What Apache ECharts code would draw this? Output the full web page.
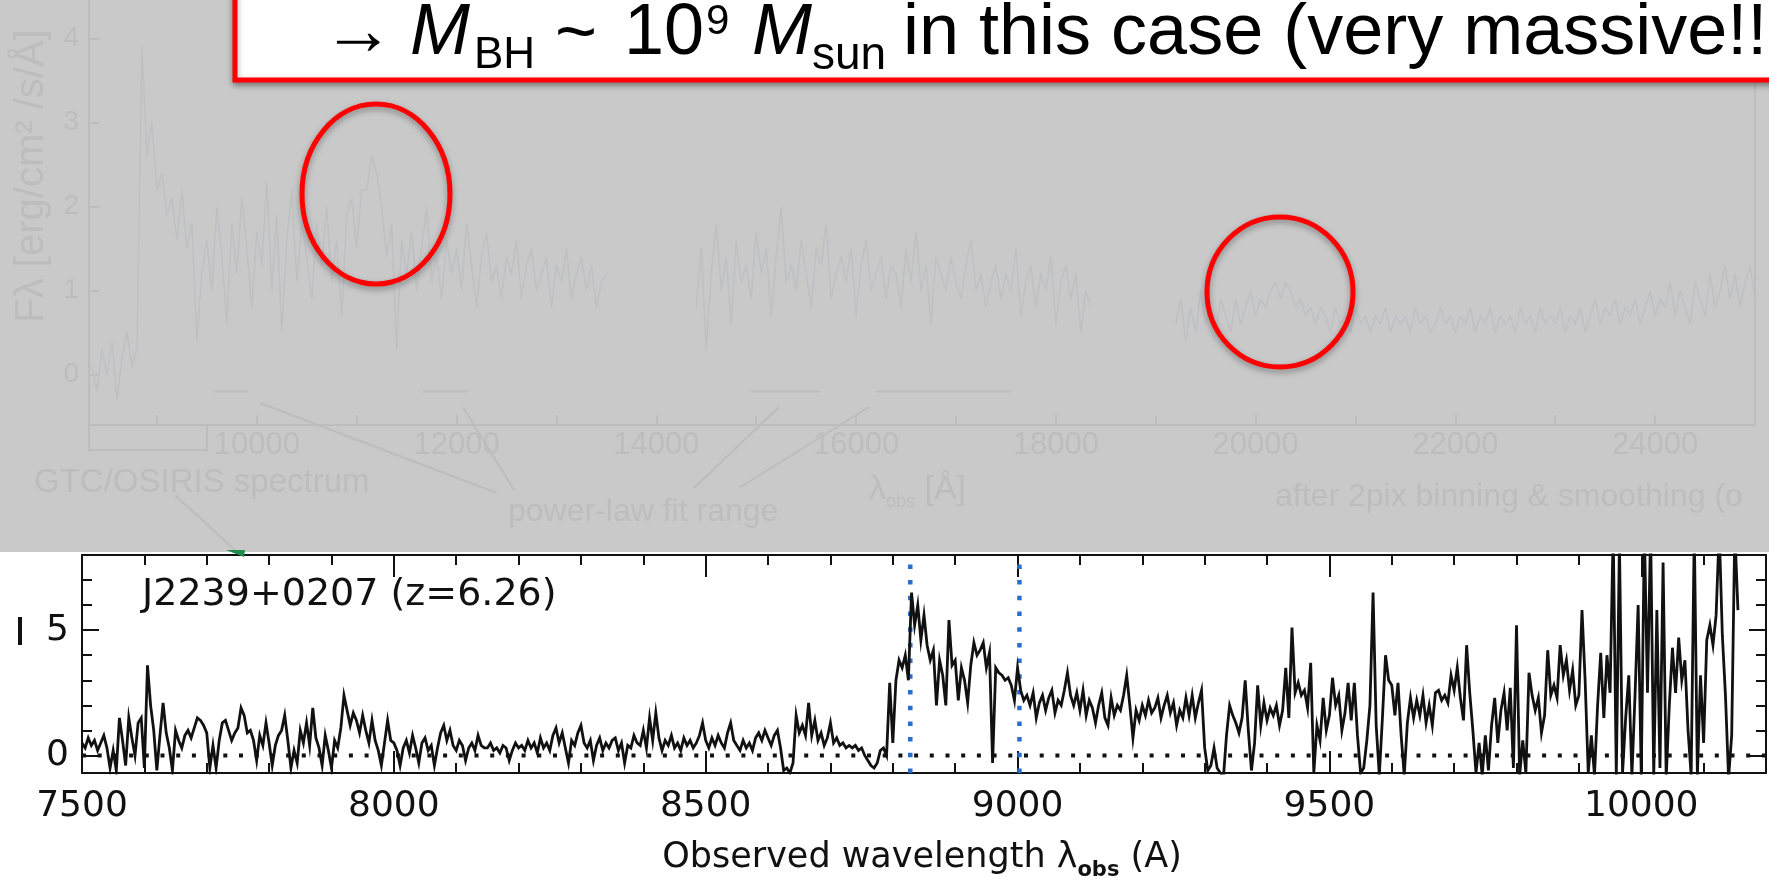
<!DOCTYPE html>
<html>
<head>
<meta charset="utf-8">
<script src="https://cdn.jsdelivr.net/npm/echarts@6/dist/echarts.min.js"></script>
<style>
  html, body { margin: 0; padding: 0; background: #ffffff; }
  #c { width: 1769px; height: 885px; }
</style>
</head>
<body>
<div id="c"></div>
<script>
// ---------- J2239+0207 optical spectrum (lower panel) ----------
const lamStart = 7500;          // first sample wavelength (A)
const lamStep = 5;              // sampling step (A)
const flux = [
  // 7500-7595
  0.5, 0.3, 0.7, 0.4, 0.6, 0.2, 0.5, 0.8, 0.3, -0.5, 0.2, -0.6, 1.5, 0.6, -0.4, 1.5, 0.7, 0.0, 1.3, 1.5,
  // 7600-7695
  -0.5, 3.6, 2.0, 1.0, -0.6, 0.8, 2.1, 0.9, 0.3, -0.6, 1.0, 0.6, 0.3, 0.8, 1.0, 0.7, 1.1, 1.5, 1.4, 1.2,
  // 7700-7795
  0.9, -0.5, 0.4, -0.5, 0.6, 1.3, 1.4, 1.0, 0.6, 0.9, 1.1, 1.9, 1.6, 0.9, 1.0, 0.6, -0.2, 0.8, 0.4, 1.3,
  // 7800-7895
  0.5, -0.4, 0.4, 0.8, 1.0, 1.6, 0.6, -0.5, 0.2, -0.3, 1.0, 0.5, 1.3, 0.4, 1.9, 0.7, 0.3, -0.4, 0.8, 0.2,
  // 7900-7995
  -0.5, 0.6, 0.3, 1.1, 2.4, 1.8, 1.2, 1.7, 1.4, 0.9, 1.6, 1.0, 0.5, 1.4, 0.6, 0.2, -0.4, 0.5, 1.4, 0.6,
  // 8000-8095
  0.5, 0.2, -0.4, 0.3, 0.6, 0.1, 0.8, 0.3, -0.3, 0.5, 0.7, 0.2, 0.4, -0.4, 0.3, 0.9, 1.2, 0.6, 1.0, 0.4,
  // 8100-8195
  0.2, 0.6, 0.4, -0.2, 0.3, 0.5, 0.2, 0.8, 0.4, 0.3, 0.3, 0.5, 0.2, 0.3, 0.1, 0.4, 0.3, -0.2, 0.2, 0.5,
  // 8200-8295
  0.3, 0.4, 0.2, 0.6, 0.3, 0.5, 0.1, 0.7, 0.3, 0.5, 0.2, 0.8, 1.1, 0.5, 0.9, 0.3, -0.3, 0.6, 0.4, 0.9,
  // 8300-8395
  1.2, 0.5, 0.3, 0.6, -0.2, 0.4, 0.7, 0.2, 0.5, 0.3, 0.6, 0.7, 0.2, 0.5, -0.3, 0.4, 0.3, 0.8, 0.5, 0.4,
  // 8400-8495
  1.0, 0.3, 1.5, 0.6, 1.7, 0.7, 0.2, 0.6, 0.4, 0.8, 0.3, 0.5, 0.2, 0.7, 0.4, 0.6, 0.3, 0.5, 0.8, 1.3,
  // 8500-8595
  0.6, 0.3, 0.7, 0.4, 0.8, 0.5, 0.3, 0.9, 1.3, 0.6, 0.4, 0.2, 0.6, 0.3, 0.5, 0.2, 0.7, 0.9, 0.6, 1.0,
  // 8600-8695
  0.7, 0.4, 0.8, 1.0, 0.3, -0.6, -0.5, -0.7, -0.3, 1.6, 0.9, 1.2, 0.8, 2.1, 0.8, 1.4, 0.6, 0.9, 0.4, 0.7,
  // 8700-8795
  1.3, 0.5, 0.7, 0.4, 0.5, 0.3, 0.4, 0.3, 0.4, 0.2, 0.3, 0.0, -0.2, -0.4, -0.5, -0.3, 0.2, 0.3, 0.0, 2.9,
  // 8800-8895
  0.5, 3.0, 3.8, 3.5, 4.0, 3.0, 6.5, 5.2, 6.0, 4.6, 5.6, 4.4, 3.8, 4.2, 2.0, 3.8, 3.2, 2.0, 5.4, 3.6,
  // 8900-8995
  3.8, 2.2, 3.5, 3.0, 2.1, 3.6, 4.5, 4.0, 4.2, 4.5, 3.5, 4.1, -0.3, 3.5, 3.3, 3.2, 3.0, 3.1, 2.8, 2.2,
  // 9000-9095
  3.5, 2.6, 2.2, 2.4, 2.0, 2.5, 1.5, 2.1, 2.4, 1.8, 2.3, 2.6, 1.7, 2.2, 2.0, 2.6, 3.3, 2.4, 2.0, 2.5,
  // 9100-9195
  1.8, 2.6, 1.6, 2.2, 1.9, 1.3, 2.0, 2.5, 1.5, 1.2, 2.3, 1.6, 2.0, 1.8, 2.4, 3.2, 2.0, 0.7, 1.8, 1.4,
  // 9200-9295
  2.0, 1.6, 2.2, 1.7, 1.9, 2.3, 1.5, 2.0, 2.4, 1.7, 2.1, 1.2, 1.8, 1.5, 2.3, 1.6, 2.4, 1.5, 2.1, 2.6,
  // 9300-9395
  0.3, -0.6, -0.4, 0.3, -0.5, -0.7, -0.9, 0.8, 2.0, 1.6, 1.3, 0.9, 1.5, 3.0, 1.0, -0.6, 0.5, 2.8, 1.2, 2.1,
  // 9400-9495
  1.4, 1.9, 1.6, 2.0, 1.2, 1.8, 3.5, 1.5, 5.1, 2.5, 2.9, 2.4, 2.6, 1.9, 3.7, -0.7, 1.2, 0.6, 2.3, 1.0,
  // 9500-9595
  1.6, 3.1, 2.0, 2.4, 1.0, 1.7, 2.9, 1.4, 2.9, 0.8, -0.7, -0.5, 0.6, 2.0, 6.5, 1.2, -0.8, 1.5, 4.0, 3.0,
  // 9600-9695
  2.8, 1.6, 2.9, 0.8, -0.8, 1.3, 2.3, 1.5, 2.2, 1.6, 2.4, 1.3, 2.0, 1.2, 2.5, 2.6, 2.2, 2.4, 2.1, 3.2,
  // 9700-9795
  2.6, 3.5, 2.3, 1.4, 4.4, 2.5, 1.0, -0.7, 0.5, -0.8, 0.8, -0.6, 1.2, 2.3, 0.5, 1.8, 2.5, 1.0, 2.7, -0.5,
  // 9800-9895
  5.2, -0.8, 0.6, -0.7, 3.3, 2.4, 1.8, 2.3, 0.9, 1.6, 4.2, 2.4, 2.8, 2.3, 4.4, 3.2, 3.8, 2.6, 3.4, 2.0,
  // 9900-9995
  2.4, 5.8, 3.0, -0.7, 0.8, -0.8, 2.0, 4.1, 1.5, 4.0, 2.5, 9.0, -0.8, 8.5, -0.7, 1.5, 3.2, -0.8, 2.4, 6.0,
  // 10000-10095
  -0.8, 9.0, 2.5, 9.0, -0.8, 5.8, -0.5, 7.7, -0.9, 2.0, 4.3, 2.5, 4.7, 3.0, 3.8, 1.0, -0.8, 9.0, -0.8, 3.2,
  // 10100-10155
  0.5, 4.6, 5.2, 4.4, 5.6, 9.0, 4.8, 2.4, -0.9, 0.8, 9.0, 5.8
];
const xTickLabels = [7500, 8000, 8500, 9000, 9500, 10000];
const yTickLabels = [0, 5];
const yMinorTicks = [1, 2, 3, 4, 6, 7];
const lineWavelengths = [8828, 9003];          // blue dotted markers
const objectName = 'J2239+0207 (z=6.26)';

// ---------- wide-band spectrum (upper, faded panel) ----------
const bandStep = 50;
const bandJStart = 8350;
const bandJ = [
  0.1, -0.2, 0.3, 0.0, 0.4, -0.3, 0.2, 0.5, 0.1, 0.3,
  3.9, 2.6, 3.0, 2.2, 2.4, 1.9, 2.1, 1.6, 2.2, 1.5, 1.8, 0.4, 1.2,
  1.6, 1.0, 2.0, 1.4, 0.6, 1.8, 1.2, 2.1, 1.5, 0.8,
  1.7, 1.3, 2.3, 1.0, 1.9, 0.5, 1.6, 2.2, 1.1, 1.8,
  1.4, 0.9, 1.8, 1.3, 2.0, 1.1, 1.6, 0.7, 1.9, 2.1,
  1.5, 2.2, 2.2, 2.6, 2.4, 2.0, 1.4, 1.8, 0.3, 1.6,
  1.2, 1.7, 1.0, 1.5, 2.0, 1.1, 1.4, 0.9, 1.6, 1.2,
  1.5, 1.0, 1.8, 1.3, 0.8, 1.4, 1.7, 1.1, 1.3, 0.9,
  1.4, 1.2, 1.6, 0.9, 1.3, 1.5, 1.0, 1.2, 1.4, 0.8,
  1.3, 1.1, 1.5, 0.9, 1.2, 1.4, 1.0, 1.3, 0.8, 1.1, 1.2
];
const bandHStart = 14400;
const bandH = [
  0.8, 1.5, 0.3, 1.2, 1.8, 1.0, 1.4, 0.6, 1.6, 1.1,
  1.3, 0.9, 1.7, 1.2, 1.5, 0.7, 1.4, 2.0, 1.1, 1.3,
  1.0, 1.6, 1.2, 0.8, 1.5, 1.3, 1.8, 0.9, 1.2, 1.4,
  1.1, 1.5, 0.7, 1.3, 1.6, 1.0, 1.2, 1.4, 0.9, 1.3,
  1.2, 0.8, 1.5, 1.1, 1.7, 1.0, 1.3, 0.6, 1.4, 1.2,
  1.0, 1.4, 1.1, 0.9, 1.3, 1.6, 1.0, 1.2, 0.8, 1.1,
  1.3, 0.9, 1.2, 1.0, 1.5, 0.7, 1.1, 1.3, 0.8, 1.2,
  1.0, 1.4, 0.6, 1.1, 1.3, 0.9, 1.2, 0.5, 1.0, 0.8
];
const bandKStart = 19200;
const bandK = [
  0.6, 0.9, 0.4, 0.8, 0.5, 1.0, 0.6, 0.8, 0.5, 0.9,
  0.7, 0.5, 0.9, 0.6, 0.8, 1.0, 0.7, 0.9, 0.8, 1.0,
  1.1, 0.9, 1.1, 1.0, 0.8, 0.9, 0.7, 0.8, 0.6, 0.8,
  0.7, 0.5, 0.8, 0.6, 0.7, 0.5, 0.8, 0.6, 0.7, 0.5,
  0.7, 0.6, 0.8, 0.5, 0.7, 0.6, 0.7, 0.5, 0.8, 0.6,
  0.7, 0.5, 0.6, 0.8, 0.6, 0.7, 0.5, 0.7, 0.6, 0.8,
  0.5, 0.7, 0.6, 0.8, 0.5, 0.7, 0.6, 0.7, 0.5, 0.8,
  0.6, 0.7, 0.5, 0.8, 0.6, 0.7, 0.6, 0.8, 0.5, 0.7,
  0.6, 0.8, 0.5, 0.7, 0.9, 0.6, 0.8, 0.7, 0.9, 0.6,
  0.8, 0.7, 0.9, 0.6, 0.8, 1.0, 0.7, 0.9, 0.8, 1.1,
  0.7, 1.0, 0.8, 0.6, 1.1, 0.9, 0.7, 1.2, 0.8, 1.0,
  1.3, 0.9, 1.2, 0.8, 1.1, 1.3, 0.9
];
const fitRanges = [[9570, 9910], [11660, 12110], [14950, 15640], [16200, 17550]];
const fitLevel = -0.2;
const bandXTicks = [10000, 12000, 14000, 16000, 18000, 20000, 22000, 24000];
const bandYTicks = [0, 1, 2, 3, 4];

// ---------- helpers ----------
function pairs(start, step, values) {
  return values.map((v, i) => [start + i * step, v]);
}
const plain = v => String(v);
const xMinorTicks = [];
for (let v = 7600; v < 10200; v += 100) if (v % 500 !== 0) xMinorTicks.push(v);
const bandXMinor = [];
for (let v = 9000; v <= 25000; v += 1000) bandXMinor.push(v);

const ink = '#111111';
const haze = '#c9c9c9';
const faint = '#bdbdbd';
const faintSpec = '#bec0c4';
const plotFont = 'DejaVu Sans';
const slideFont = 'Liberation Sans, Arial, Helvetica, sans-serif';

function frameAxis(pos, grid, extra) {
  return Object.assign({
    gridIndex: grid, type: 'value', position: pos,
    splitLine: { show: false },
    axisLine: { show: true, onZero: false, lineStyle: { color: ink, width: 2 } },
    axisLabel: { show: false },
    axisTick: { show: false }
  }, extra);
}

const chart = echarts.init(document.getElementById('c'), null, { renderer: 'canvas' });

const bandSeries = [
  { start: bandJStart, vals: bandJ },
  { start: bandHStart, vals: bandH },
  { start: bandKStart, vals: bandK }
].map(seg => ({
  type: 'line', xAxisIndex: 0, yAxisIndex: 0, symbol: 'none', silent: true,
  data: pairs(seg.start, bandStep, seg.vals),
  lineStyle: { color: faintSpec, width: 1.5 }, z: 1
}));

const fitSeries = fitRanges.map(r => ({
  type: 'line', xAxisIndex: 0, yAxisIndex: 0, symbol: 'none', silent: true,
  data: [[r[0], fitLevel], [r[1], fitLevel]],
  lineStyle: { color: faint, width: 2 }, z: 1
}));

const markerSeries = lineWavelengths.map(w => ({
  type: 'line', xAxisIndex: 1, yAxisIndex: 1, symbol: 'none', silent: true,
  data: [[w, -0.7], [w, 8]],
  lineStyle: { color: '#2a6ec8', width: 4.5, type: [4.5, 11.2] }, z: 3
}));

const option = {
  animation: false,
  backgroundColor: '#ffffff',
  grid: [
    { left: 89, top: 0, right: 14, height: 425 },
    { left: 82, top: 555, right: 3, height: 218 }
  ],
  xAxis: [
    {
      gridIndex: 0, type: 'value', min: 8320, max: 25000, position: 'bottom',
      splitLine: { show: false },
      axisLine: { onZero: false, lineStyle: { color: faint, width: 2 } },
      axisTick: { inside: true, length: 10, customValues: bandXMinor, lineStyle: { color: faint, width: 2 } },
      axisLabel: { customValues: bandXTicks, formatter: plain, color: faint, fontFamily: slideFont, fontSize: 31, margin: 5 }
    },
    frameAxis('bottom', 1, {
      min: 7500, max: 10200,
      axisTick: { show: true, inside: true, length: 22, customValues: xTickLabels, lineStyle: { color: ink, width: 2 } },
      axisLabel: { show: true, customValues: xTickLabels, formatter: plain, color: ink, fontFamily: plotFont, fontSize: 36, margin: 16 }
    }),
    frameAxis('bottom', 1, {
      min: 7500, max: 10200, axisLine: { show: false, onZero: false },
      axisTick: { show: true, inside: true, length: 10, customValues: xMinorTicks, lineStyle: { color: ink, width: 2 } }
    }),
    frameAxis('top', 1, {
      min: 7500, max: 10200,
      axisTick: { show: true, inside: true, length: 22, customValues: xTickLabels, lineStyle: { color: ink, width: 2 } }
    }),
    frameAxis('top', 1, {
      min: 7500, max: 10200, axisLine: { show: false, onZero: false },
      axisTick: { show: true, inside: true, length: 10, customValues: xMinorTicks, lineStyle: { color: ink, width: 2 } }
    })
  ],
  yAxis: [
    {
      gridIndex: 0, type: 'value', min: -0.6, max: 4.46, position: 'left',
      splitLine: { show: false },
      axisLine: { onZero: false, lineStyle: { color: faint, width: 2 } },
      axisTick: { inside: true, length: 10, customValues: bandYTicks, lineStyle: { color: faint, width: 2 } },
      axisLabel: { customValues: bandYTicks, formatter: plain, color: faint, fontFamily: slideFont, fontSize: 28, margin: 10 }
    },
    frameAxis('left', 1, {
      min: -0.7, max: 8,
      axisTick: { show: true, inside: true, length: 17, customValues: yTickLabels, lineStyle: { color: ink, width: 2 } },
      axisLabel: { show: true, customValues: yTickLabels, formatter: plain, color: ink, fontFamily: plotFont, fontSize: 36, margin: 13 }
    }),
    frameAxis('left', 1, {
      min: -0.7, max: 8, axisLine: { show: false, onZero: false },
      axisTick: { show: true, inside: true, length: 10, customValues: yMinorTicks, lineStyle: { color: ink, width: 2 } }
    }),
    frameAxis('right', 1, {
      min: -0.7, max: 8,
      axisTick: { show: true, inside: true, length: 17, customValues: yTickLabels, lineStyle: { color: ink, width: 2 } }
    }),
    frameAxis('right', 1, {
      min: -0.7, max: 8, axisLine: { show: false, onZero: false },
      axisTick: { show: true, inside: true, length: 10, customValues: yMinorTicks, lineStyle: { color: ink, width: 2 } }
    }),
    {
      gridIndex: 0, type: 'value', min: -0.6, max: 4.46, position: 'right',
      splitLine: { show: false }, axisTick: { show: false }, axisLabel: { show: false },
      axisLine: { show: true, onZero: false, lineStyle: { color: faint, width: 2 } }
    }
  ],
  series: [
    ...bandSeries,
    ...fitSeries,
    {
      type: 'line', xAxisIndex: 1, yAxisIndex: 1, symbol: 'none', silent: true,
      data: [[7500, 0], [10200, 0]],
      lineStyle: { color: ink, width: 4, type: [4, 11.7] }, z: 2
    },
    ...markerSeries,
    {
      type: 'line', xAxisIndex: 1, yAxisIndex: 1, symbol: 'none', silent: true,
      data: pairs(lamStart, lamStep, flux), clip: true,
      lineStyle: { color: ink, width: 2.8, join: 'miter' }, z: 4
    }
  ],
  graphic: { elements: [
    // haze behind the wide-band panel
    { type: 'rect', z: -10, silent: true, shape: { x: 0, y: 0, width: 1769, height: 552 }, style: { fill: haze } },
    { type: 'rect', z: -5, silent: true, shape: { x: 89, y: 425, width: 118, height: 25 }, style: { fill: 'none', stroke: faint, lineWidth: 2 } },
    { type: 'text', z: 5, x: 32, y: 176, rotation: Math.PI / 2, silent: true,
      style: { text: 'Fλ [erg/cm² /s/Å]', fill: faint, font: '40px ' + slideFont, align: 'center', verticalAlign: 'middle' } },
    { type: 'text', z: 5, x: 34, y: 483, silent: true,
      style: { text: 'GTC/OSIRIS spectrum', fill: faint, font: '33px ' + slideFont, align: 'left', verticalAlign: 'middle' } },
    { type: 'text', z: 5, x: 508, y: 512, silent: true,
      style: { text: 'power-law fit range', fill: faint, font: '32px ' + slideFont, align: 'left', verticalAlign: 'middle' } },
    { type: 'text', z: 5, x: 869, y: 490, silent: true,
      style: { text: '{a|λ}{s|obs}{a| [Å]}', fill: faint, verticalAlign: 'middle', align: 'left',
        rich: { a: { fill: faint, fontSize: 34, fontFamily: slideFont, lineHeight: 42 },
                s: { fill: faint, fontSize: 18, fontFamily: slideFont, lineHeight: 18, verticalAlign: 'bottom' } } } },
    { type: 'text', z: 5, x: 1275, y: 497, silent: true,
      style: { text: 'after 2pix binning & smoothing (o', fill: faint, font: '32px ' + slideFont, align: 'left', verticalAlign: 'middle' } },
    { type: 'line', z: 5, silent: true, shape: { x1: 175, y1: 495, x2: 237, y2: 552 }, style: { stroke: faint, lineWidth: 2 } },
    { type: 'line', z: 5, silent: true, shape: { x1: 497, y1: 493, x2: 260, y2: 403 }, style: { stroke: faint, lineWidth: 2 } },
    { type: 'line', z: 5, silent: true, shape: { x1: 514, y1: 490, x2: 463, y2: 407 }, style: { stroke: faint, lineWidth: 2 } },
    { type: 'line', z: 5, silent: true, shape: { x1: 694, y1: 488, x2: 779, y2: 407 }, style: { stroke: faint, lineWidth: 2 } },
    { type: 'line', z: 5, silent: true, shape: { x1: 739, y1: 488, x2: 869, y2: 407 }, style: { stroke: faint, lineWidth: 2 } },
    { type: 'polygon', z: 6, silent: true, shape: { points: [[226, 550], [245, 550], [244, 557]] }, style: { fill: '#1e8c4e' } },

    // highlighted regions
    { type: 'ellipse', z: 100, silent: true, shape: { cx: 376, cy: 194, rx: 74, ry: 90 },
      style: { fill: 'none', stroke: '#ff0000', lineWidth: 5, shadowBlur: 6, shadowColor: 'rgba(0,0,0,0.35)', shadowOffsetY: 3 } },
    { type: 'ellipse', z: 100, silent: true, shape: { cx: 1280, cy: 292, rx: 73, ry: 75 },
      style: { fill: 'none', stroke: '#ff0000', lineWidth: 5, shadowBlur: 6, shadowColor: 'rgba(0,0,0,0.35)', shadowOffsetY: 3 } },

    // black-hole mass note
    { type: 'rect', z: 100, silent: true, shape: { x: 235, y: -20, width: 1600, height: 100 },
      style: { fill: '#ffffff', stroke: '#ff0000', lineWidth: 5, shadowBlur: 6, shadowColor: 'rgba(0,0,0,0.35)', shadowOffsetY: 3 } },
    { type: 'text', z: 101, x: 322, y: 34, silent: true,
      style: { text: '→', fill: '#000', font: '72px ' + slideFont, align: 'left', verticalAlign: 'middle' } },
    { type: 'text', z: 101, x: 410, y: 34, silent: true,
      style: { text: 'M', fill: '#000', font: 'italic 72px ' + slideFont, align: 'left', verticalAlign: 'middle' } },
    { type: 'text', z: 101, x: 474, y: 56, silent: true,
      style: { text: 'BH', fill: '#000', font: '44px ' + slideFont, align: 'left', verticalAlign: 'middle' } },
    { type: 'text', z: 101, x: 555, y: 36, silent: true,
      style: { text: '~', fill: '#000', font: '72px ' + slideFont, align: 'left', verticalAlign: 'middle' } },
    { type: 'text', z: 101, x: 624, y: 34, silent: true,
      style: { text: '10', fill: '#000', font: '72px ' + slideFont, align: 'left', verticalAlign: 'middle' } },
    { type: 'text', z: 101, x: 706, y: 22, silent: true,
      style: { text: '9', fill: '#000', font: '42px ' + slideFont, align: 'left', verticalAlign: 'middle' } },
    { type: 'text', z: 101, x: 752, y: 34, silent: true,
      style: { text: 'M', fill: '#000', font: 'italic 72px ' + slideFont, align: 'left', verticalAlign: 'middle' } },
    { type: 'text', z: 101, x: 812, y: 56, silent: true,
      style: { text: 'sun', fill: '#000', font: '46px ' + slideFont, align: 'left', verticalAlign: 'middle' } },
    { type: 'text', z: 101, x: 903, y: 34, silent: true,
      style: { text: 'in this case (very massive!!', fill: '#000', font: '72px ' + slideFont, align: 'left', verticalAlign: 'middle' } },

    // lower panel labels
    { type: 'text', z: 10, x: 142, y: 595, silent: true,
      style: { text: objectName, fill: ink, font: '38px ' + plotFont, align: 'left', verticalAlign: 'middle' } },
    { type: 'text', z: 10, x: 922, y: 858, silent: true,
      style: { text: '{a|Observed wavelength λ}{s|obs}{a| (A)}', fill: ink, align: 'center', verticalAlign: 'middle',
        rich: { a: { fill: ink, fontSize: 35, fontFamily: plotFont, lineHeight: 46 },
                s: { fill: ink, fontSize: 21, fontFamily: plotFont, fontWeight: 'bold', lineHeight: 22, verticalAlign: 'bottom' } } } },
    { type: 'rect', z: 10, silent: true, shape: { x: 18, y: 617, width: 4, height: 28 }, style: { fill: ink } }
  ] }
};

chart.setOption(option);
</script>
</body>
</html>
